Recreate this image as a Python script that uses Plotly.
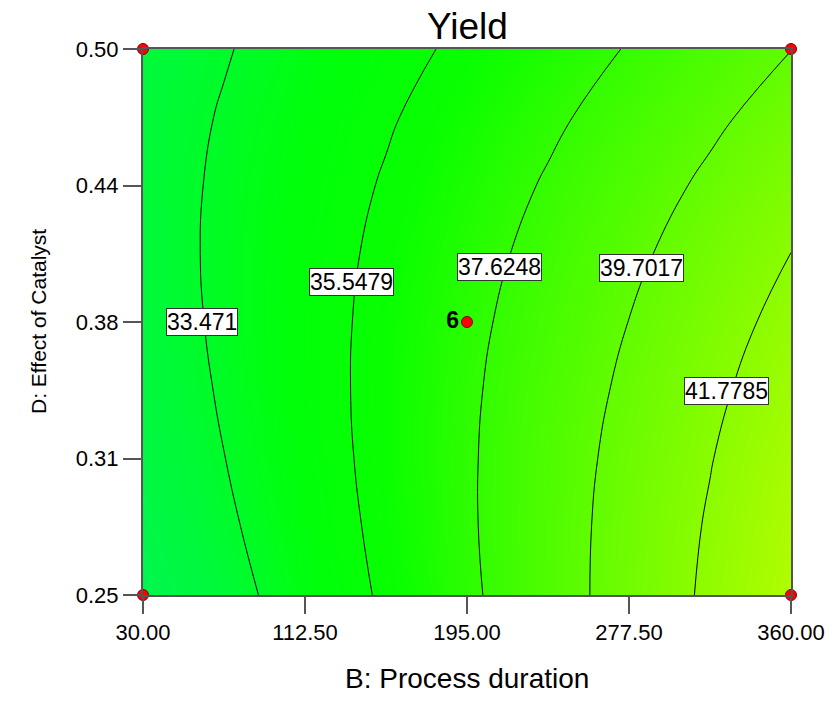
import plotly.graph_objects as go

# B: Process duration grid (x), D: Effect of Catalyst grid (y)
process_duration = [30, 71.25, 112.5, 153.75, 195, 236.25, 277.5, 318.75, 360]
catalyst_effect = [0.25, 0.28125, 0.3125, 0.34375, 0.375, 0.40625, 0.4375, 0.46875, 0.5]

# Yield surface (rows = catalyst, cols = duration)
yield_grid = [
    [31.42, 32.85, 34.31, 35.80, 37.32, 38.88, 40.47, 42.09, 43.74],
    [31.84, 33.19, 34.56, 35.97, 37.42, 38.89, 40.40, 41.94, 43.51],
    [32.19, 33.45, 34.75, 36.07, 37.43, 38.83, 40.25, 41.71, 43.20],
    [32.45, 33.63, 34.85, 36.09, 37.37, 38.68, 40.02, 41.40, 42.81],
    [32.64, 33.74, 34.87, 36.03, 37.23, 38.46, 39.72, 41.01, 42.34],
    [32.75, 33.77, 34.81, 35.90, 37.01, 38.16, 39.34, 40.55, 41.79],
    [32.78, 33.71, 34.68, 35.68, 36.71, 37.78, 38.88, 40.01, 41.17],
    [32.73, 33.58, 34.47, 35.39, 36.34, 37.32, 38.33, 39.38, 40.46],
    [32.60, 33.37, 34.18, 35.01, 35.88, 36.78, 37.72, 38.68, 39.68],
]

contour_levels = [33.471, 35.5479, 37.6248, 39.7017, 41.7785]
label_x = [60.0, 136.4, 211.8, 283.9, 326.9]
label_y = [0.375, 0.3933, 0.4000, 0.3997, 0.3436]

design_x = [30, 30, 360, 360, 195]
design_y = [0.25, 0.5, 0.25, 0.5, 0.375]
design_text = ["", "", "", "", "6"]

x_ticks = [30, 112.5, 195, 277.5, 360]
x_ticktext = ["30.00", "112.50", "195.00", "277.50", "360.00"]
y_ticks = [0.25, 0.3125, 0.375, 0.4375, 0.5]
y_ticktext = ["0.25", "0.31", "0.38", "0.44", "0.50"]

FONT = "Arial, 'Liberation Sans', sans-serif"

colorscale = [
    [0.0, "rgb(0,246,80)"],
    [0.12, "rgb(0,250,55)"],
    [0.25, "rgb(0,255,12)"],
    [0.38, "rgb(10,255,0)"],
    [0.5, "rgb(50,253,0)"],
    [0.7, "rgb(105,252,0)"],
    [1.0, "rgb(178,252,0)"],
]

fig = go.Figure()
fig.add_trace(go.Heatmap(
    x=process_duration, y=catalyst_effect, z=yield_grid,
    zsmooth="best", colorscale=colorscale, zmin=31.4, zmax=43.75,
    showscale=False, hoverinfo="skip",
))
fig.add_trace(go.Contour(
    x=process_duration, y=catalyst_effect, z=yield_grid,
    contours=dict(start=contour_levels[0], end=contour_levels[-1],
                  size=(contour_levels[-1] - contour_levels[0]) / (len(contour_levels) - 1),
                  coloring="none"),
    line=dict(color="black", width=1, smoothing=1.3),
    showscale=False, hoverinfo="skip",
))
fig.add_trace(go.Scatter(
    x=design_x, y=design_y, mode="markers+text",
    text=design_text, textposition="middle left",
    textfont=dict(family=FONT, size=23, color="black", weight="bold"),
    marker=dict(color="red", size=11, line=dict(color="#800000", width=1)),
    cliponaxis=False, showlegend=False, hoverinfo="skip",
))

for lx, ly, lv in zip(label_x, label_y, contour_levels):
    fig.add_annotation(
        x=lx, y=ly, text=f"{lv:g}", showarrow=False,
        font=dict(family=FONT, size=23, color="black"),
        bgcolor="white", bordercolor="#333", borderwidth=1, borderpad=0,
    )

# titles as annotations for exact placement
fig.add_annotation(text="Yield", xref="paper", yref="paper", x=0.5, y=1,
                   yshift=23, showarrow=False, xanchor="center", yanchor="middle",
                   font=dict(family=FONT, size=37, color="black"))
fig.add_annotation(text="B: Process duration", xref="paper", yref="paper", x=0.5, y=0,
                   yshift=-83, showarrow=False, xanchor="center", yanchor="middle",
                   font=dict(family=FONT, size=28, color="black"))
fig.add_annotation(text="D: Effect of Catalyst", xref="paper", yref="paper", x=0, y=0.5,
                   xshift=-105, showarrow=False, xanchor="center", yanchor="middle",
                   textangle=-90, font=dict(family=FONT, size=21, color="black"))

fig.update_layout(
    width=830, height=711,
    margin=dict(l=143, r=39, t=49, b=116, autoexpand=False),
    paper_bgcolor="white", plot_bgcolor="white",
    showlegend=False,
)
fig.update_xaxes(
    range=[30, 360], tickvals=x_ticks, ticktext=x_ticktext,
    ticks="outside", ticklen=17, tickcolor="#555", tickwidth=1.5,
    showline=True, linecolor="#555", linewidth=2, mirror=True,
    showgrid=False, zeroline=False, automargin=False, ticklabeloverflow="allow",
    tickfont=dict(family=FONT, size=22, color="black"),
)
fig.update_yaxes(
    range=[0.25, 0.5], tickvals=y_ticks, ticktext=y_ticktext,
    ticks="outside", ticklen=18, tickcolor="#555", tickwidth=1.5,
    showline=True, linecolor="#555", linewidth=2, mirror=True,
    showgrid=False, zeroline=False, automargin=False, ticklabeloverflow="allow",
    tickfont=dict(family=FONT, size=22, color="black"),
)

# remove the default 8px page margin so the 830x711 figure fills the window
fig.write_html(
    "out.html",
    config={"displayModeBar": False},
    post_script="document.body.style.margin='0';document.body.style.overflow='hidden';",
)
